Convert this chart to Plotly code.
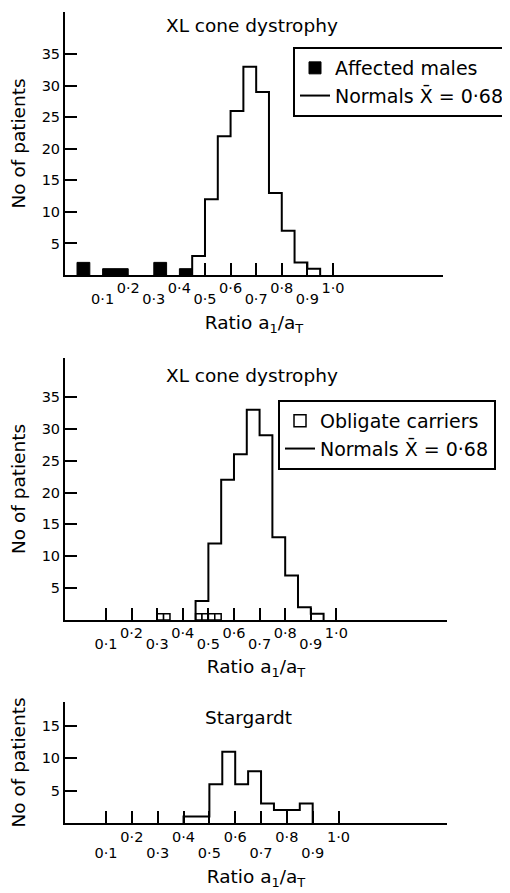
import plotly.graph_objects as go

# ---------------- data ----------------
bin_width = 0.05

normal_bin_lo = [0.45, 0.50, 0.55, 0.60, 0.65, 0.70, 0.75, 0.80, 0.85, 0.90]
normal_counts = [3, 12, 22, 26, 33, 29, 13, 7, 2, 1]

affected_x = [0.025, 0.125, 0.175, 0.325, 0.425]   # bin centres
affected_counts = [2, 1, 1, 2, 1]

carrier_width = 0.025
carrier_x = [0.3125, 0.3375, 0.4625, 0.4875, 0.5125, 0.5375]
carrier_counts = [1, 1, 1, 1, 1, 1]

stargardt_bin_lo = [0.40, 0.45, 0.50, 0.55, 0.60, 0.65, 0.70, 0.75, 0.80, 0.85]
stargardt_counts = [1, 1, 6, 11, 6, 8, 3, 2, 2, 3]

even_tick_vals = [0.2, 0.4, 0.6, 0.8, 1.0]
even_tick_text = ["0·2", "0·4", "0·6", "0·8", "1·0"]
odd_tick_vals = [0.1, 0.3, 0.5, 0.7, 0.9]
odd_tick_text = ["0·1", "0·3", "0·5", "0·7", "0·9"]
top_mark_vals = [0.5, 0.6, 0.7, 0.8, 0.9, 1.0]
all_mark_vals = [0.1, 0.2, 0.3, 0.4, 0.5, 0.6, 0.7, 0.8, 0.9, 1.0]
y_ticks_big = [5, 10, 15, 20, 25, 30, 35]
y_ticks_small = [5, 10, 15]

W, H = 510, 893
OFF = 8  # page body margin
FONT = "DejaVu Sans"


def step_xy(lo, counts, w):
    xs = [lo[0]] + list(lo) + [lo[-1] + w]
    ys = [0] + list(counts) + [0]
    return xs, ys


def py(pix):
    return 1 - (pix - OFF) / H


def px(pix):
    return (pix - OFF) / W


fig = go.Figure()

# ---- top panel ----
nx, ny = step_xy(normal_bin_lo, normal_counts, bin_width)
fig.add_trace(go.Bar(x=affected_x, y=affected_counts, width=bin_width,
                     marker=dict(color="black", line=dict(color="black", width=1)),
                     name="Affected males", legend="legend", xaxis="x", yaxis="y"))
fig.add_trace(go.Scatter(x=nx, y=ny, mode="lines", line=dict(color="black", width=2, shape="hv"),
                         name="Normals X\u0304 = 0·68", legend="legend", xaxis="x", yaxis="y"))

# ---- middle panel ----
fig.add_trace(go.Bar(x=carrier_x, y=carrier_counts, width=carrier_width,
                     marker=dict(color="white", line=dict(color="black", width=1.5)),
                     name="Obligate carriers", legend="legend2", xaxis="x4", yaxis="y2"))
fig.add_trace(go.Scatter(x=nx, y=ny, mode="lines", line=dict(color="black", width=2, shape="hv"),
                         name="Normals X\u0304 = 0·68", legend="legend2", xaxis="x4", yaxis="y2"))

# ---- bottom panel ----
sx, sy = step_xy(stargardt_bin_lo, stargardt_counts, bin_width)
fig.add_trace(go.Scatter(x=sx, y=sy, mode="lines", line=dict(color="black", width=2, shape="hv"),
                         name="Stargardt", showlegend=False, xaxis="x7", yaxis="y3"))

# empty carriers so the label-only axes are drawn
for xa, ya in [("x2", "y"), ("x3", "y"), ("x5", "y2"), ("x6", "y2"), ("x8", "y3"), ("x9", "y3")]:
    fig.add_trace(go.Scatter(x=[None], y=[None], mode="lines", showlegend=False, hoverinfo="skip",
                             xaxis=xa, yaxis=ya))

x_title = "Ratio a<sub>1</sub>/a<sub>T</sub>"


def main_x(rng, dom, anchor, marks, standoff):
    return dict(range=rng, domain=dom, anchor=anchor, showline=True, linecolor="black", linewidth=2,
                ticks="inside", ticklen=12, tickwidth=2, tickcolor="black", tickvals=marks,
                showticklabels=False, showgrid=False, zeroline=False, fixedrange=True,
                title=dict(text=x_title, font=dict(size=18.5), standoff=standoff))


def label_x(rng, over, anchor, vals, text, standoff):
    return dict(range=rng, overlaying=over, anchor=anchor, side="bottom", tickvals=vals, ticktext=text,
                ticks="", showline=False, showgrid=False, zeroline=False,
                ticklabelstandoff=standoff, tickfont=dict(size=14.5))


def main_y(rng, dom, anchor, vals):
    return dict(range=rng, domain=dom, anchor=anchor, showline=True, linecolor="black", linewidth=2,
                ticks="inside", ticklen=12, tickwidth=2, tickcolor="black", tickvals=vals,
                showgrid=False, zeroline=False, tickfont=dict(size=14.5),
                title=dict(text="No of patients", font=dict(size=18.5)))


r1 = [-0.047, 1.43]
r2 = [-0.06, 1.432]
r3 = [-0.059, 1.42]

fig.update_layout(
    width=W, height=H, margin=dict(l=0, r=0, t=0, b=0),
    paper_bgcolor="white", plot_bgcolor="white",
    font=dict(family=FONT, size=14, color="black"),
    barmode="overlay",
    xaxis=main_x(r1, [px(65), px(443)], "y", top_mark_vals, 40),
    xaxis2=label_x(r1, "x", "y", even_tick_vals, even_tick_text, 2),
    xaxis3=label_x(r1, "x", "y", odd_tick_vals, odd_tick_text, 13),
    yaxis=main_y([0, 41.7], [py(275), py(12)], "x", y_ticks_big),
    xaxis4=main_x(r2, [px(65), px(447)], "y2", all_mark_vals, 39),
    xaxis5=label_x(r2, "x4", "y2", even_tick_vals, even_tick_text, 2),
    xaxis6=label_x(r2, "x4", "y2", odd_tick_vals, odd_tick_text, 13),
    yaxis2=main_y([0, 41.1], [py(620), py(358)], "x4", y_ticks_big),
    xaxis7=main_x(r3, [px(65), px(447)], "y3", all_mark_vals, 46),
    xaxis8=label_x(r3, "x7", "y3", even_tick_vals, even_tick_text, 3),
    xaxis9=label_x(r3, "x7", "y3", odd_tick_vals, odd_tick_text, 19),
    yaxis3=main_y([0, 18.7], [py(823), py(702)], "x7", y_ticks_small),
    legend=dict(x=px(293), y=py(47), xanchor="left", yanchor="top", bordercolor="black", borderwidth=2,
                bgcolor="white", font=dict(size=19), tracegroupgap=0,
                entrywidth=190, entrywidthmode="pixels"),
    legend2=dict(x=px(278), y=py(400), xanchor="left", yanchor="top", bordercolor="black", borderwidth=2,
                 bgcolor="white", font=dict(size=19), tracegroupgap=0),
    annotations=[
        dict(text="XL cone dystrophy", x=px(252), y=py(25), xref="paper", yref="paper", showarrow=False,
             font=dict(size=18.5), xanchor="center", yanchor="middle"),
        dict(text="XL cone dystrophy", x=px(252), y=py(375), xref="paper", yref="paper", showarrow=False,
             font=dict(size=18.5), xanchor="center", yanchor="middle"),
        dict(text="Stargardt", x=px(248), y=py(717), xref="paper", yref="paper", showarrow=False,
             font=dict(size=18.5), xanchor="center", yanchor="middle"),
    ],
)

fig.write_html("out.html")
